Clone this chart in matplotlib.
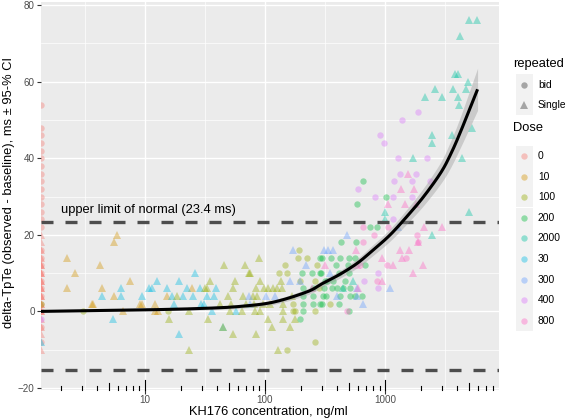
import numpy as np
import matplotlib
matplotlib.use("Agg")
import matplotlib.pyplot as plt
from matplotlib.patches import Rectangle
from matplotlib.ticker import FixedLocator, NullFormatter

plt.rcParams['font.family'] = ['Liberation Sans', 'DejaVu Sans']

# ---------------- data ----------------
dose_levels = ["0", "10", "100", "200", "2000", "30", "300", "400", "800"]
dose_colors = ["#F8766D", "#D39200", "#93AA00", "#00BA38", "#00C19F",
               "#00B9E3", "#619CFF", "#DB72FB", "#FF61C3"]

# placebo (concentration 0, drawn at the left panel edge)
d0_single_conc = [0] * 22
d0_single_val = [0, 0, 2, 2, 4, 4, 6, 6, 8, 8, 10, 10, 12, 12, 14, 16, 18, 20, -2, -4, -6, -10]
d0_bid_conc = [0] * 26
d0_bid_val = [0, 2, 4, 6, 8, 10, 12, 14, 16, 22, 24, 26, 28, 30, 32, 34, 36, 38, 40, 42, 44, 46, 48, 54, -8, -4]

d10_single_conc = [5.8, 5.5, 2.25, 4.2, 2.6, 7.5, 2.25, 4.4, 5.5, 3.6, 3.7, 9.1, 9.4, 12.1, 6.6, 12.1, 12.9, 15.2, 24.5]
d10_single_val = [20, 18, 14, 12, 10, 8, 6, 6, 4, 2, 2, 2, 2, 2, 0, 0, 0, 4, 6]

d30_single_conc = [0, 6.3, 6.3, 4.4, 5.4, 9.4, 10.8, 12.5, 26, 19.3, 11.4, 15.3, 22.5, 28.7, 38.8, 16.7, 20.6, 25,
                   32.7, 37.8, 29.6, 31, 17.5, 36, 57, 45, 19.3]
d30_single_val = [-8, 6, 4, 4, -2, 4, 6, 8, 10, 8, 6, 6, 6, 6, 6, 4, 4, 4, 4, 4, 2, 2, 2, 0, 0, -4, -6]

d100_single_conc = [35, 46, 68, 74, 56, 31.6, 33, 53.8, 84, 49.5, 65, 52, 23.4, 51, 16, 54.5, 84, 23.4, 33.7, 45,
                    80, 81, 82, 18.4, 42, 70, 64, 90, 75, 91, 135, 98, 107, 116, 125, 138, 167, 96, 110, 142,
                    91, 142, 107, 142, 178, 114, 161, 129, 86]
d100_single_val = [8, 12, 12, 10, 8, 6, 6, 6, 6, 4, 4, 2, 0, 0, -2, -6, -6, -10, -2, -4,
                   4, 2, 0, 4, 2, 2, 0, 14, 10, 8, 8, 6, 6, 6, 6, 6, 4, 2, 2, 2,
                   0, 0, -2, -2, -2, -4, -4, -10, 4]
d100_bid_conc = [0, 3.06, 15.6, 193, 190, 222, 147, 270, 131, 153, 196, 261, 284, 172, 348, 172, 178, 261, 261, 152]
d100_bid_val = [2, 0, 0, 16, 14, 14, 12, 12, 10, 10, 8, 8, 6, 2, 2, 0, 0, 0, -8, -10]

d200_bid_conc = [428, 573, 287, 300, 352, 422, 505, 391, 494, 202, 245, 287, 295, 416, 500, 316, 330, 370, 464, 208,
                 250, 310, 360, 401, 450, 511, 208, 253, 303, 320, 420, 511, 560, 208, 253, 287, 300, 416, 208, 500,
                 196, 580, 660, 1019, 750, 864, 560, 680, 640]
d200_bid_val = [18, 18, 14, 14, 14, 14, 14, 12, 12, 10, 10, 10, 10, 10, 10, 8, 8, 8, 8, 6,
                6, 6, 6, 6, 6, 6, 4, 4, 4, 4, 4, 4, 4, 2, 2, 2, 2, 2, 0, 0,
                -2, 28, 34, 30, 22, 22, 14, 12, 4]

d2000_single_conc = [5040, 5880, 4217, 3830, 4050, 4940, 2610, 3710, 4730, 2154, 2966, 4080, 4140, 2450, 2450,
                     3600, 1722, 4350, 5275, 5040, 2450, 1000, 1000, 450, 545]
d2000_single_val = [76, 76, 72, 62, 62, 60, 58, 58, 58, 56, 56, 56, 54, 46, 44, 46, 40, 40, 48, 26, 20, 26, 24, 6, 8]

d300_single_conc = [480, 170, 310, 337, 370, 220, 348, 161, 196, 102, 121, 401, 580, 75, 1290, 1101, 580, 660, 74]
d300_single_val = [20, 16, 16, 16, 16, 12, 10, 8, 8, 4, 4, 4, 6, 2, 22, 6, 4, 2, 4]

d400_bid_conc = [0, 1884, 1377, 908, 981, 1290, 2254, 1334, 1811, 1189, 1668, 2371, 600, 826, 1172, 1668, 1172,
                 880, 668, 880]
d400_bid_val = [-2, 52, 50, 46, 44, 40, 40, 36, 36, 34, 34, 34, 32, 30, 30, 30, 24, 10, 8, 6]

d800_single_conc = [2113, 2965, 1896, 573, 1325, 1597, 938, 1377, 580, 1159, 2060, 1702, 938, 600, 1563, 1350,
                    1753, 1067, 1468, 1811, 316, 245]
d800_single_val = [22, 22, 18, 16, 16, 16, 14, 14, 12, 12, 12, 10, 8, 6, 36, 32, 32, 28, 28, 28, 12, 6]
d800_bid_conc = [660, 1067, 809, 1836, 652, 1896, 1496, 1045, 853, 617, 480]
d800_bid_val = [22, 22, 20, 20, 18, 18, 14, 12, 8, 12, 0]

# fitted curve with 95% CI
curve_conc = [1.35, 10, 31.6, 62, 117, 224, 302, 422, 589, 794, 1096, 1514, 2089, 2884, 3467, 4217, 5900]
curve_fit = [0.0, 0.4, 0.8, 1.3, 2.4, 5.1, 7.3, 9.7, 12.6, 16.0, 19.9, 24.7, 29.9, 36.0, 40.6, 46.6, 58.0]
curve_half = [0.2, 0.3, 0.4, 0.5, 0.6, 0.8, 0.9, 1.0, 1.2, 1.4, 1.6, 1.9, 2.3, 2.8, 3.4, 4.0, 5.5]

upper_limit = 23.4
lower_limit = -15.4
x_ticks = [10, 100, 1000]
y_ticks = [-20, 0, 20, 40, 60, 80]

groups = [
    ("0", "Single", d0_single_conc, d0_single_val),
    ("0", "bid", d0_bid_conc, d0_bid_val),
    ("10", "Single", d10_single_conc, d10_single_val),
    ("30", "Single", d30_single_conc, d30_single_val),
    ("100", "Single", d100_single_conc, d100_single_val),
    ("100", "bid", d100_bid_conc, d100_bid_val),
    ("200", "bid", d200_bid_conc, d200_bid_val),
    ("300", "Single", d300_single_conc, d300_single_val),
    ("400", "bid", d400_bid_conc, d400_bid_val),
    ("800", "Single", d800_single_conc, d800_single_val),
    ("800", "bid", d800_bid_conc, d800_bid_val),
    ("2000", "Single", d2000_single_conc, d2000_single_val),
]


def smooth_curve(xs, ys, n=12):
    """Catmull-Rom smoothing through the read points (drawing only)."""
    p = np.column_stack([xs, ys])
    p = np.vstack([p[0] - (p[1] - p[0]), p, p[-1] + (p[-1] - p[-2])])
    out = []
    for i in range(1, len(p) - 2):
        p0, p1, p2, p3 = p[i - 1], p[i], p[i + 1], p[i + 2]
        for t in np.linspace(0, 1, n, endpoint=False):
            t2, t3 = t * t, t * t * t
            out.append(0.5 * ((2 * p1) + (-p0 + p2) * t + (2 * p0 - 5 * p1 + 4 * p2 - p3) * t2
                              + (-p0 + 3 * p1 - 3 * p2 + p3) * t3))
    out.append(p[-2])
    return np.array(out)


# ---------------- figure ----------------
W, H = 567, 420
fig = plt.figure(figsize=(W / 100, H / 100), dpi=100)
L, R, T, B = 40.5, 499, 2, 389.5
ax = fig.add_axes([L / W, 1 - B / H, (R - L) / W, (B - T) / H])
ax.set_facecolor("#EBEBEB")
for s in ax.spines.values():
    s.set_visible(False)

XMIN, XMAX = 1.35, 8900
YMIN, YMAX = -20.4, 80.8
ax.set_xscale("log")
ax.set_xlim(XMIN, XMAX)
ax.set_ylim(YMIN, YMAX)

# grid
ax.xaxis.set_major_locator(FixedLocator(x_ticks))
ax.xaxis.set_minor_locator(FixedLocator([10 ** 0.5, 10 ** 1.5, 10 ** 2.5, 10 ** 3.5]))
ax.xaxis.set_minor_formatter(NullFormatter())
ax.set_xticklabels([str(t) for t in x_ticks])
ax.yaxis.set_major_locator(FixedLocator(y_ticks))
ax.yaxis.set_minor_locator(FixedLocator([-10, 10, 30, 50, 70]))
ax.grid(which="major", color="white", linewidth=1.0)
ax.grid(which="minor", color="white", linewidth=0.5)
ax.set_axisbelow(True)
ax.tick_params(which="major", length=2.7, width=0.8, color="#333333", labelsize=7.1,
               labelcolor="#4D4D4D", pad=1.5)
ax.tick_params(which="minor", length=0)

# points
cmap = dict(zip(dose_levels, dose_colors))
for dose, reg, cx, cy in groups:
    cx = np.asarray(cx, float)
    xs = np.where(cx > 0, cx, XMIN)
    if reg == "bid":
        ax.plot(xs, cy, "o", ms=4.6, mew=0, color=cmap[dose], alpha=0.38, zorder=2)
    else:
        ax.plot(xs, cy, "^", ms=5.6, mew=0, color=cmap[dose], alpha=0.38, zorder=2)

# reference lines
for yl in (upper_limit, lower_limit):
    ax.axhline(yl, color="#4D4D4D", linewidth=2.4, linestyle=(0, (3.6, 3.6)), zorder=3)
ax.text(10.7, 26.4, "upper limit of normal (23.4 ms)", ha="center", va="center", fontsize=9.3, zorder=4)

# fitted curve + CI (smoothed in log-x space for drawing)
lc = np.log10(curve_conc)
fit_s = smooth_curve(lc, np.asarray(curve_fit))
lo_s = smooth_curve(lc, np.asarray(curve_fit) - np.asarray(curve_half))
hi_s = smooth_curve(lc, np.asarray(curve_fit) + np.asarray(curve_half))
ax.fill_between(10 ** lo_s[:, 0], lo_s[:, 1], hi_s[:, 1], color="#999999", alpha=0.4, linewidth=0, zorder=4)
ax.plot(10 ** fit_s[:, 0], fit_s[:, 1], color="black", linewidth=2.2, solid_capstyle="butt", zorder=5)

# log ticks along the bottom (inside panel)
ph = B - T
for d in range(0, 4):
    for k in range(1, 10):
        v = k * 10 ** d
        if not (XMIN <= v <= XMAX):
            continue
        ln = 9.5 if k == 1 else (6.5 if k == 5 else 3.5)
        ax.plot([v, v], [0, ln / ph], transform=ax.get_xaxis_transform(), color="black",
                linewidth=0.8, zorder=5, clip_on=False)

fig.text(268 / W, 1 - 412 / H, "KH176 concentration, ng/ml", fontsize=9.3, ha="center", va="center")
fig.text(9 / W, 1 - 193 / H, "delta-TpTe (observed - baseline), ms \u00b1 95-% CI", fontsize=9.3,
         ha="center", va="center", rotation=90)

# ---------------- legend (drawn in pixel coordinates) ----------------
lg = fig.add_axes([0, 0, 1, 1], zorder=10)
lg.set_xlim(0, W)
lg.set_ylim(H, 0)
lg.axis("off")
kx0, kw, kh = 515.5, 17.3, 20.5
lx = 538
lg.text(513, 64.5, "repeated", fontsize=9.3, va="center", ha="left")
rep_y = [84.5, 105]
for yy, (lab, mk, ms) in zip(rep_y, [("bid", "o", 4.6), ("Single", "^", 5.6)]):
    lg.add_patch(Rectangle((kx0, yy - kh / 2), kw, kh, facecolor="#F2F2F2", edgecolor="none"))
    lg.plot([kx0 + kw / 2], [yy], mk, ms=ms, mew=0, color="#333333", alpha=0.4)
    lg.text(lx, yy, lab, fontsize=7.4, va="center", ha="left")
lg.text(513, 128, "Dose", fontsize=9.3, va="center", ha="left")
for i, (lab, col) in enumerate(zip(dose_levels, dose_colors)):
    yy = 156 + i * 20.6
    lg.add_patch(Rectangle((kx0, yy - 20.6 / 2), kw, 20.6, facecolor="#F2F2F2", edgecolor="none"))
    lg.plot([kx0 + kw / 2], [yy], "o", ms=4.6, mew=0, color=col, alpha=0.4)
    lg.text(lx, yy, lab, fontsize=7.4, va="center", ha="left")

fig.savefig("out.png", dpi=100)
